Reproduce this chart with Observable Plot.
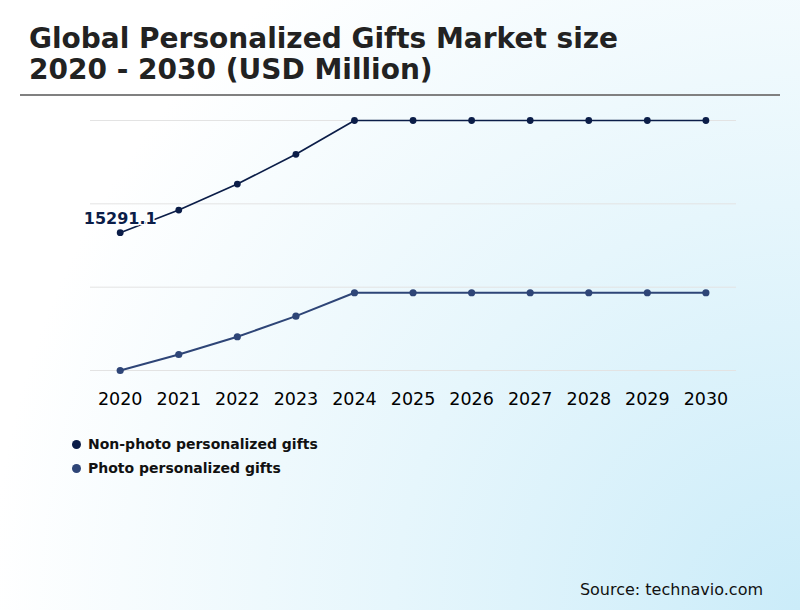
<!DOCTYPE html>
<html>
<head>
<meta charset="utf-8">
<script src="https://cdn.jsdelivr.net/npm/d3@7"></script>
<script src="https://cdn.jsdelivr.net/npm/@observablehq/plot@0.6"></script>
<style>
  html, body { margin: 0; padding: 0; }
  #page {
    position: relative; width: 800px; height: 610px; overflow: hidden;
    background: radial-gradient(circle 900px at 100% 100%, #cbecf9 0%, #e6f6fc 45%, #ffffff 90%);
    font-family: "DejaVu Sans", sans-serif;
  }
  .title { position: absolute; left: 29px; top: 23px; font-weight: bold; font-size: 28px; line-height: 31px; color: #222; white-space: nowrap; }
  .sep { position: absolute; left: 20px; top: 94px; width: 760px; height: 2px; background: #808080; }
  #chart { position: absolute; left: 0; top: 100px; }
  .ldot { position: absolute; width: 9px; height: 9px; border-radius: 50%; }
  .ltext { position: absolute; left: 88px; font-weight: bold; font-size: 14px; line-height: 16px; color: #111; white-space: nowrap; }
  .source { position: absolute; right: 37px; top: 580px; font-size: 16px; line-height: 19px; color: #111; }
</style>
</head>
<body>
<div id="page">
  <div class="title">Global Personalized Gifts Market size<br>2020 - 2030 (USD Million)</div>
  <div class="sep"></div>
  <div id="chart"></div>
  <div id="legend"></div>
  <div class="source">Source: technavio.com</div>
</div>
<script>
const years = ["2020","2021","2022","2023","2024","2025","2026","2027","2028","2029","2030"];
const nonPhoto = [15291.1, 16489, 17866, 19439, 21228, 21228, 21228, 21228, 21228, 21228, 21228];
const photo = [8000, 8847, 9785, 10876, 12115, 12115, 12115, 12115, 12115, 12115, 12115];
const seriesNames = ["Non-photo personalized gifts", "Photo personalized gifts"];
const seriesColors = ["#0b1d48", "#2e4577"];
const labelText = ["15291.1"];

const nonPhotoData = years.map((y, i) => ({year: y, value: nonPhoto[i]}));
const photoData = years.map((y, i) => ({year: y, value: photo[i]}));

const yMin = d3.min([...nonPhoto, ...photo]);
const yMax = d3.max([...nonPhoto, ...photo]);
const grid = d3.range(4).map(i => yMin + i * (yMax - yMin) / 3);

const chart = Plot.plot({
  width: 800,
  height: 310,
  marginTop: 20,
  marginBottom: 40,
  marginLeft: 90,
  marginRight: 64,
  style: {background: "transparent", fontFamily: "DejaVu Sans", color: "#000"},
  x: {type: "point", domain: years, range: [119.7, 705.4], padding: 0, round: false},
  y: {domain: [yMin, yMax], axis: null},
  marks: [
    Plot.ruleY(grid, {stroke: "#e3e3e3", strokeWidth: 1}),
    Plot.axisX({tickSize: 0, tickPadding: 22, fontSize: 17.5, label: null}),
    Plot.lineY(photoData, {x: "year", y: "value", stroke: seriesColors[1], strokeWidth: 2}),
    Plot.dot(photoData, {x: "year", y: "value", fill: seriesColors[1], r: 3.6}),
    Plot.lineY(nonPhotoData, {x: "year", y: "value", stroke: seriesColors[0], strokeWidth: 1.7}),
    Plot.dot(nonPhotoData, {x: "year", y: "value", fill: seriesColors[0], r: 3.4}),
    Plot.text([nonPhotoData[0]], {x: "year", y: "value", text: () => labelText[0], fill: seriesColors[0], stroke: "white", strokeWidth: 3, fontSize: 16, fontWeight: "bold", lineAnchor: "bottom", dy: -9})
  ]
});
document.getElementById("chart").appendChild(chart);

const legend = document.getElementById("legend");
seriesNames.forEach((name, i) => {
  const d = document.createElement("div");
  d.className = "ldot";
  d.style.left = "72px";
  d.style.top = (440 + i * 24) + "px";
  d.style.background = seriesColors[i];
  legend.appendChild(d);
  const t = document.createElement("div");
  t.className = "ltext";
  t.style.top = (436 + i * 24) + "px";
  t.textContent = name;
  legend.appendChild(t);
});
</script>
</body>
</html>
